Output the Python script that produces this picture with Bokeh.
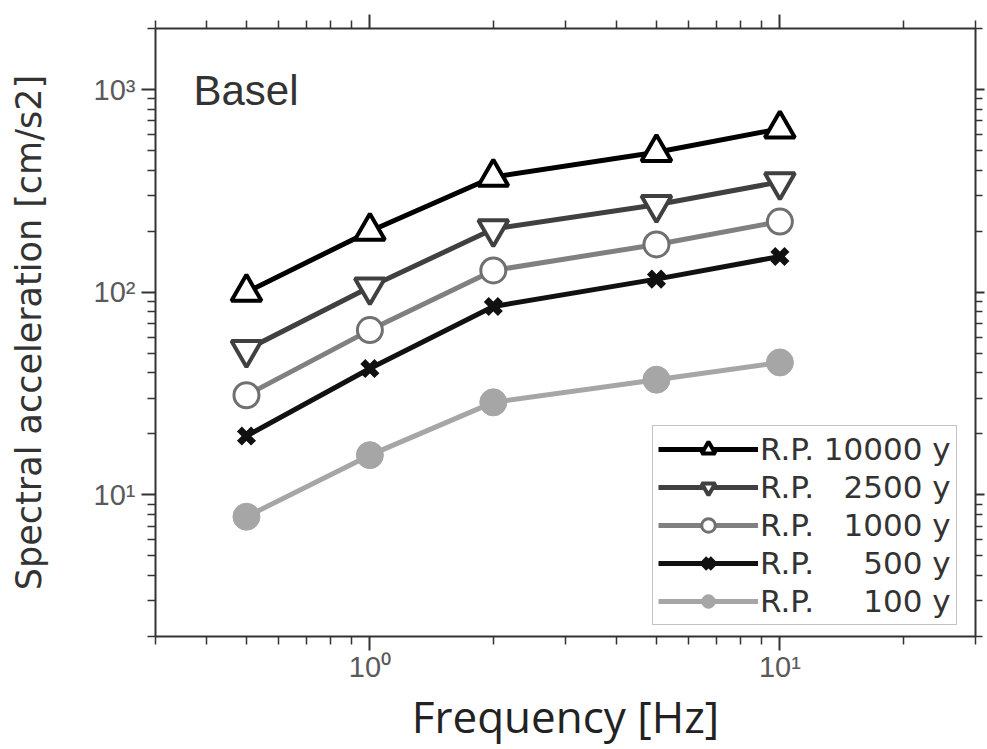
from bokeh.plotting import figure
from bokeh.models import LogAxis, FixedTicker, Legend, LegendItem, Label
from bokeh.embed import file_html
from bokeh.resources import INLINE

# ---- data ----
freq = [0.5, 1, 2, 5, 10]
rp10000 = [100, 200, 370, 490, 640]
rp2500 = [52, 106, 205, 270, 350]
rp1000 = [31, 65, 128, 172, 223]
rp500 = [19.5, 42, 85, 116, 150]
rp100 = [7.8, 15.7, 28.6, 37, 45]

legend_labels = ["R.P. 10000 y", "R.P. \u20072500 y", "R.P. \u20071000 y",
                 "R.P. \u2007\u2007500 y", "R.P. \u2007\u2007100 y"]

x_major = [1, 10]
x_minor = [0.3, 0.4, 0.5, 0.6, 0.7, 0.8, 0.9, 2, 3, 4, 5, 6, 7, 8, 9, 20, 30]
x_labels = {1: "10\u2070", 10: "10\u00b9"}
y_major = [10, 100, 1000]
y_minor = [2, 3, 4, 5, 6, 7, 8, 9, 20, 30, 40, 50, 60, 70, 80, 90,
           200, 300, 400, 500, 600, 700, 800, 900, 2000]
y_labels = {10: "10\u00b9", 100: "10\u00b2", 1000: "10\u00b3"}

p = figure(width=985, height=748, x_axis_type="log", y_axis_type="log",
           x_range=(0.3, 30), y_range=(2, 2000),
           output_backend="svg", toolbar_location=None,
           min_border_left=155, min_border_right=10, min_border_top=28,
           min_border_bottom=112)
p.xgrid.visible = False
p.ygrid.visible = False
p.outline_line_color = None
p.background_fill_color = "white"
p.border_fill_color = "white"


def style_axis(ax, tick_out=14, minor_out=8):
    ax.axis_line_color = "#333333"
    ax.axis_line_width = 2
    ax.major_tick_line_color = "#333333"
    ax.major_tick_line_width = 2
    ax.major_tick_out = tick_out
    ax.major_tick_in = 0
    ax.minor_tick_line_color = "#333333"
    ax.minor_tick_line_width = 1.5
    ax.minor_tick_out = minor_out
    ax.minor_tick_in = 0
    ax.major_label_text_font = "Liberation Sans"
    ax.major_label_text_font_size = "29px"
    ax.major_label_text_color = "#5a5a5a"


p.xaxis.ticker = FixedTicker(ticks=x_major, minor_ticks=x_minor)
p.yaxis.ticker = FixedTicker(ticks=y_major, minor_ticks=y_minor)
style_axis(p.xaxis[0])
style_axis(p.yaxis[0])
p.xaxis.major_label_overrides = x_labels
p.yaxis.major_label_overrides = y_labels
p.xaxis.major_label_standoff = 0
p.yaxis.major_label_standoff = 6

p.xaxis.axis_label = "Frequency [Hz]"
p.xaxis.axis_label_text_font = "Open Sans"
p.xaxis.axis_label_text_font_size = "44px"
p.xaxis.axis_label_text_font_style = "normal"
p.xaxis.axis_label_text_color = "#222222"
p.xaxis.axis_label_standoff = 0

p.yaxis.axis_label = "Spectral acceleration [cm/s2]"
p.yaxis.axis_label_text_font = "DejaVu Sans"
p.yaxis.axis_label_text_font_size = "35px"
p.yaxis.axis_label_text_font_style = "normal"
p.yaxis.axis_label_text_color = "#333333"
p.yaxis.axis_label_standoff = 42

top = LogAxis(ticker=FixedTicker(ticks=x_major, minor_ticks=x_minor))
style_axis(top)
top.major_label_text_font_size = "1px"
top.major_label_text_alpha = 0
top.major_label_standoff = 0
p.add_layout(top, "above")

right = LogAxis(ticker=FixedTicker(ticks=y_major, minor_ticks=y_minor))
style_axis(right, tick_out=9, minor_out=7)
right.major_label_text_font_size = "1px"
right.major_label_text_alpha = 0
right.major_label_standoff = 0
p.add_layout(right, "right")

series = [
    (rp10000, "#000000", "triangle", 30, "#000000", "white", 4),
    (rp2500, "#404040", "inverted_triangle", 30, "#404040", "white", 4),
    (rp1000, "#808080", "circle", 25, "#707070", "white", 3),
    (rp500, "#111111", "x", 20, "#111111", "#111111", 7),
    (rp100, "#a6a6a6", "circle", 27, "#a6a6a6", "#a6a6a6", 1),
]

items = []
for (vals, lc, mk, sz, mlc, mfc, mlw), lab in zip(series, legend_labels):
    rl = p.line(freq, vals, line_color=lc, line_width=5)
    rm = p.scatter(freq, vals, marker=mk, size=sz, line_color=mlc,
                   fill_color=mfc, line_width=mlw)
    items.append(LegendItem(label=lab, renderers=[rl, rm]))

legend = Legend(items=items, location=(497, 11),
                glyph_width=100, glyph_height=34, spacing=2, padding=5,
                margin=0, label_standoff=2,
                label_text_font="DejaVu Sans", label_text_font_size="31px",
                label_text_color="#333333",
                border_line_color="#888888", border_line_width=1.5,
                background_fill_color="white", background_fill_alpha=1)
p.add_layout(legend)

p.add_layout(Label(x=38, y=546, x_units="screen", y_units="screen",
                   text="Basel", text_font="Liberation Sans",
                   text_font_size="42px", text_color="#333333",
                   text_baseline="alphabetic"))

open("out.html", "w").write(file_html(p, INLINE))
